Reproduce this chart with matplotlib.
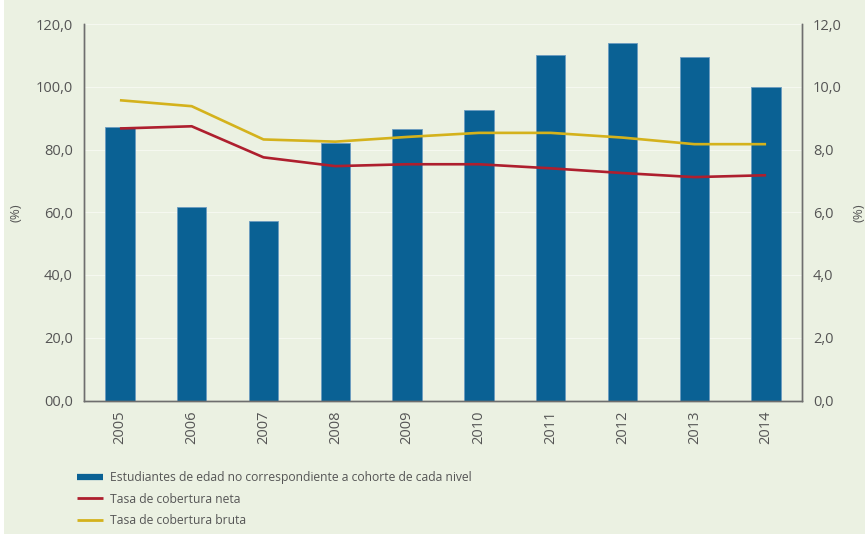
import matplotlib
matplotlib.use("Agg")
import matplotlib.pyplot as plt
from matplotlib.lines import Line2D
from matplotlib.patches import Rectangle
import numpy as np

# datos
anios = ["2005", "2006", "2007", "2008", "2009", "2010", "2011", "2012", "2013", "2014"]
edad_no_corresp = [8.71, 6.17, 5.71, 8.2, 8.65, 9.27, 11.0, 11.4, 10.95, 10.0]   # eje derecho
cob_neta = [86.7, 87.4, 77.5, 74.7, 75.3, 75.3, 74.0, 72.5, 71.2, 71.8]          # eje izquierdo
cob_bruta = [95.7, 93.8, 83.2, 82.5, 84.0, 85.3, 85.3, 83.8, 81.7, 81.7]

etiq_izq = ["00,0", "20,0", "40,0", "60,0", "80,0", "100,0", "120,0"]
etiq_der = ["0,0", "2,0", "4,0", "6,0", "8,0", "10,0", "12,0"]

nombres = ["Estudiantes de edad no correspondiente a cohorte de cada nivel",
           "Tasa de cobertura neta",
           "Tasa de cobertura bruta"]

fondo = "#EBF1E2"
azul = "#0A6194"
rojo = "#AE1F2E"
amarillo = "#D4B21C"
gris = "#555555"

plt.rcParams["font.family"] = ["Open Sans", "DejaVu Sans"]

fig = plt.figure(figsize=(8.65, 5.34), dpi=100, facecolor=fondo)
fig.patches.append(Rectangle((0, 0), 4 / 865, 1, transform=fig.transFigure,
                             facecolor="white", edgecolor="none", zorder=-10))

ax = fig.add_axes([84 / 865, 133.5 / 534, (802 - 84) / 865, (510 - 133.5) / 534])
ax_r = ax.twinx()
ax.set_zorder(ax_r.get_zorder() + 1)
ax.patch.set_visible(False)
ax_r.patch.set_visible(False)

x = np.arange(len(anios))

# barras en el eje derecho
ax_r.set_axisbelow(True)
ax_r.yaxis.grid(True, color="#F5F8F0", linewidth=0.8)
ax_r.bar(x, edad_no_corresp, width=0.41, color=azul, edgecolor="#6b9cc0", linewidth=0.6)

# lineas en el eje izquierdo
ax.plot(x, cob_neta, color=rojo, linewidth=1.9, solid_capstyle="butt")
ax.plot(x, cob_bruta, color=amarillo, linewidth=1.9, solid_capstyle="butt")

ax.set_xlim(-0.5, len(anios) - 0.5)
ax.set_ylim(0, 120)
ax_r.set_ylim(0, 12)

ax.set_yticks(np.arange(0, 121, 20))
ax.set_yticklabels(etiq_izq)
ax_r.set_yticks(np.arange(0, 13, 2))
ax_r.set_yticklabels(etiq_der)
ax.set_xticks(x)
ax.set_xticklabels(anios, rotation=90)

for a in (ax, ax_r):
    a.tick_params(axis="both", length=0, labelsize=10.5, colors=gris, pad=8)
    a.spines["top"].set_visible(False)
    for s in ("left", "right", "bottom"):
        a.spines[s].set_color("#6e6e6e")
        a.spines[s].set_linewidth(1.0)
ax.tick_params(axis="x", pad=7)

ax.set_ylabel("(%)", color=gris, fontsize=9.5)
ax.yaxis.set_label_coords(-0.086, 0.5)
ax_r.set_ylabel("(%)", color=gris, fontsize=9.5, rotation=90)
ax_r.yaxis.set_label_coords(1.071, 0.5)

handles = [Line2D([0], [0], color=azul, linewidth=4.5, solid_capstyle="butt"),
           Line2D([0], [0], color=rojo, linewidth=2, solid_capstyle="butt"),
           Line2D([0], [0], color=amarillo, linewidth=2, solid_capstyle="butt")]
fig.legend(handles, nombres, loc="upper left", bbox_to_anchor=(66 / 865, 1 - 460 / 534),
           frameon=False, fontsize=8.7, handlelength=2.2, handletextpad=0.55,
           labelspacing=0.72, labelcolor=gris)

fig.savefig("out.png", dpi=100, facecolor=fondo)
